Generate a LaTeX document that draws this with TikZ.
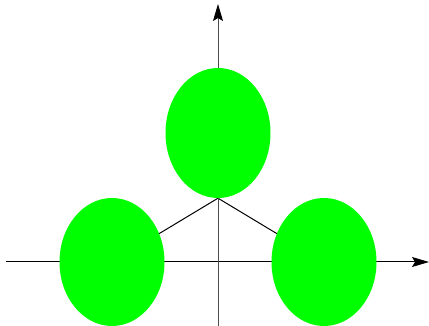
\documentclass[tikz,border=0pt]{standalone}
\usetikzlibrary{shapes.geometric,arrows.meta,backgrounds}
\begin{document}
\begin{tikzpicture}[x=1pt,y=-1pt,
  blob/.style={ellipse,fill={rgb,255:red,0;green,255;blue,0},draw=none,inner sep=0pt,minimum width=105pt,minimum height=130pt},
  axis/.style={line width=1pt,-{Stealth[length=17pt,width=10pt,inset=3pt,black]}},
  bond/.style={line width=1pt,black}]
\useasboundingbox (0,0) rectangle (429,326);
\coordinate (xs) at (6,262);
\coordinate (xe) at (429,262);
\coordinate (ys) at (218,326);
\coordinate (ye) at (218,4);
\draw[axis] (xs) -- (xe);
\draw[axis,black!70] (ys) -- (ye);
\node[blob] (top) at (218,133) {};
\node[blob,minimum height=128pt] (left) at (112,262) {};
\node[blob,minimum height=128pt] (right) at (324,262) {};
\begin{scope}[on background layer]
\draw[bond] (top.south) -- (left.center);
\draw[bond] (top.south) -- (right.center);
\end{scope}
\end{tikzpicture}
\end{document}
